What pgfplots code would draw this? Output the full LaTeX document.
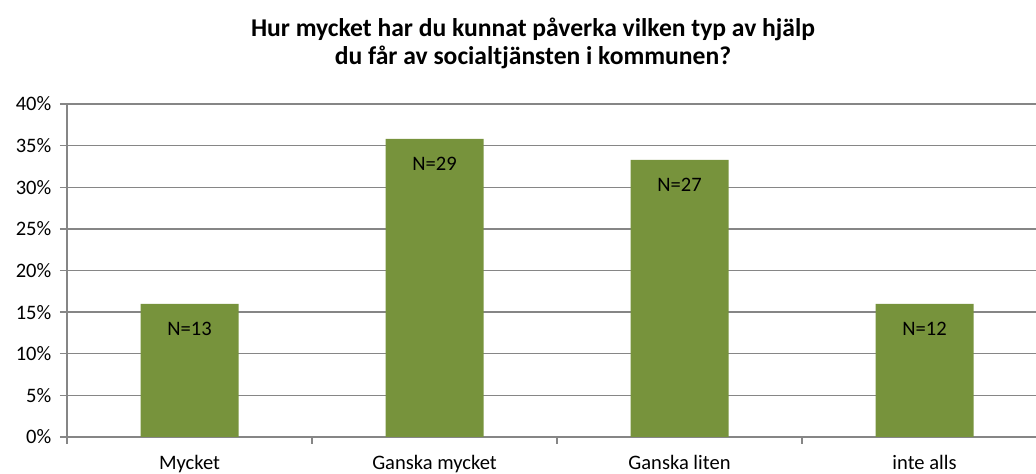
\documentclass[border=0pt]{standalone}
\usepackage{pgfplots}
\pgfplotsset{compat=1.18}
\usepackage{fontspec}
\setmainfont{Carlito}
\definecolor{bargreen}{RGB}{119,147,60}
\definecolor{gridgray}{RGB}{134,134,134}
\begin{document}
\begin{tikzpicture}
\begin{axis}[
  scale only axis,
  width=726.75pt, height=249.75pt,
  xmin=-0.5, xmax=3.455,
  ymin=0, ymax=40,
  axis x line*=bottom, axis y line*=left,
  axis line style={gridgray, line width=1.1pt, -},
  ytick={0,5,...,40},
  yticklabels={0\%,5\%,10\%,15\%,20\%,25\%,30\%,35\%,40\%},
  ymajorgrids,
  grid style={gridgray, line width=1.1pt},
  xtick={-0.5,0.5,1.5,2.5},
  xticklabels={},
  extra x ticks={0,1,2,3},
  extra x tick labels={Mycket,Ganska mycket,Ganska liten,inte alls},
  extra x tick style={major tick length=0pt, grid=none, xticklabel style={yshift=-10pt}},
  tick style={gridgray, line width=1.1pt},
  major tick length=5.25pt,
  tick align=outside,
  ticklabel style={font=\fontsize{15.4}{18}\selectfont, text=black},
  yticklabel style={xshift=-3pt},
  ybar, bar width=0.4,
  nodes near coords,
  point meta=explicit symbolic,
  every node near coord/.append style={anchor=center, yshift=-18.75pt, font=\fontsize{15.4}{18}\selectfont, text=black},
]
\addplot[fill=bargreen, draw=none] coordinates {
  (0,16.0) [N=13]
  (1,35.8) [N=29]
  (2,33.3) [N=27]
  (3,16.0) [N=12]
};
\end{axis}
\node[align=center, font=\fontsize{19.2}{20.5}\selectfont\bfseries, text=black] at (349.5pt,295.1pt) {Hur mycket har du kunnat påverka vilken typ av hjälp\\du får av socialtjänsten i kommunen?};
\pgfresetboundingbox
\path[use as bounding box] (-50.25pt,-27.75pt) rectangle (726.75pt,327.75pt);
\end{tikzpicture}
\end{document}
